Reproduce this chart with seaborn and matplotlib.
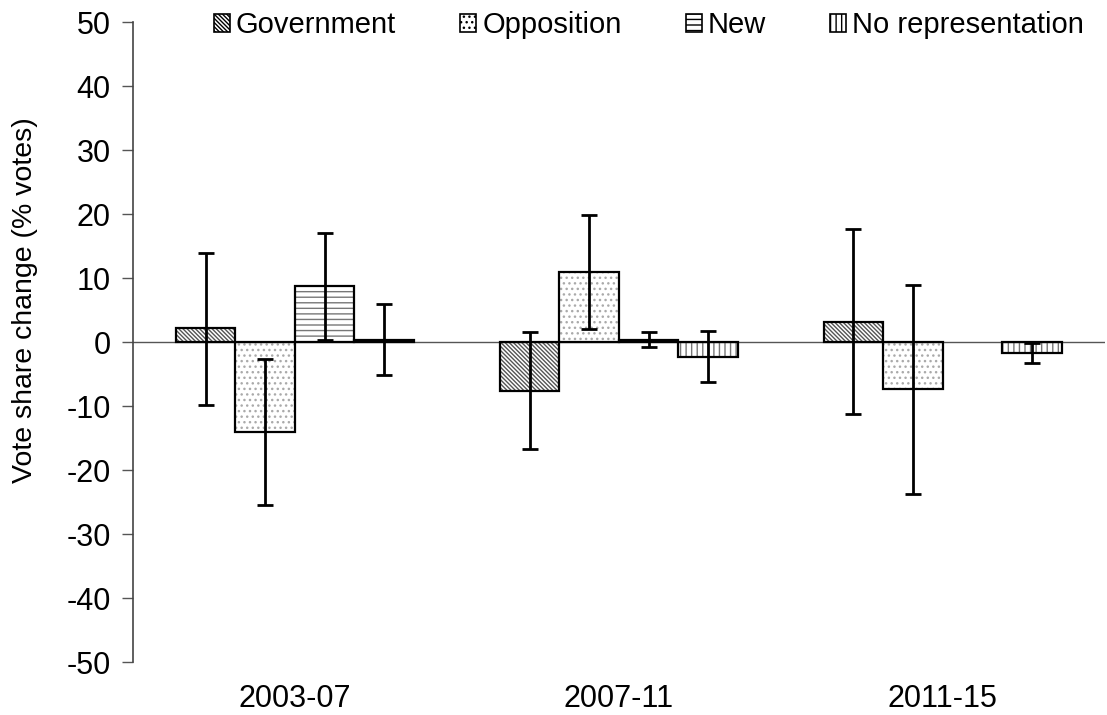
import numpy as np
import pandas as pd
import matplotlib
matplotlib.use('Agg')
import matplotlib.pyplot as plt
import seaborn as sns
from matplotlib.patches import Rectangle, Patch

# values
periods = ['2003-07', '2007-11', '2011-15']
groups = ['Government', 'Opposition', 'New', 'No representation']

gov_mean = [2.2, -7.6, 3.2]
gov_low = [-9.8, -16.7, -11.2]
gov_high = [13.9, 1.6, 17.7]

opp_mean = [-14.0, 11.0, -7.4]
opp_low = [-25.4, 2.0, -23.8]
opp_high = [-2.7, 19.9, 9.0]

new_mean = [8.7, 0.4, np.nan]
new_low = [0.3, -0.8, np.nan]
new_high = [17.0, 1.6, np.nan]

norep_mean = [0.4, -2.3, -1.7]
norep_low = [-5.2, -6.2, -3.3]
norep_high = [5.9, 1.8, -0.2]

means = {'Government': gov_mean, 'Opposition': opp_mean,
         'New': new_mean, 'No representation': norep_mean}
lows = {'Government': gov_low, 'Opposition': opp_low,
        'New': new_low, 'No representation': norep_low}
highs = {'Government': gov_high, 'Opposition': opp_high,
         'New': new_high, 'No representation': norep_high}

hatches = {'Government': '\\\\\\\\\\\\\\\\', 'Opposition': '...',
           'New': '---', 'No representation': '|||'}
hatch_cols = {'Government': '#555555', 'Opposition': '#aaaaaa',
              'New': '#777777', 'No representation': '#777777'}

rows = []
for g in groups:
    for i, p in enumerate(periods):
        rows.append({'period': p, 'group': g, 'value': means[g][i]})
df = pd.DataFrame(rows).dropna()

sns.set_style('white')
plt.rcParams['font.family'] = ['Liberation Sans', 'DejaVu Sans']
plt.rcParams['hatch.linewidth'] = 1.0
plt.rcParams['axes.unicode_minus'] = False
plt.rcParams['text.color'] = 'black'
plt.rcParams['axes.labelcolor'] = 'black'
plt.rcParams['xtick.color'] = 'black'
plt.rcParams['ytick.color'] = 'black'

fig = plt.figure(figsize=(11.07, 7.15), dpi=100)
ax = fig.add_axes([0.120, 0.074, 0.878, 0.895])

sns.barplot(data=df, x='period', y='value', hue='group', hue_order=groups,
            order=periods, width=0.735, errorbar=None, dodge=True,
            palette=['white'] * 4, legend=False, ax=ax)

for g, cont in zip(groups, ax.containers):
    for bar in cont:
        bar.set_hatch(hatches[g])
        bar.set_edgecolor(hatch_cols[g])
        bar.set_linewidth(0)
        bar.set_facecolor('white')
        ax.add_patch(Rectangle((bar.get_x(), bar.get_y()), bar.get_width(),
                               bar.get_height(), fill=False, edgecolor='black',
                               linewidth=1.6, zorder=3))
        xc = bar.get_x() + bar.get_width() / 2
        k = int(round(xc))
        m = means[g][k]
        ax.errorbar(xc, m, yerr=[[m - lows[g][k]], [highs[g][k] - m]],
                    fmt='none', ecolor='black', elinewidth=2, capsize=6,
                    capthick=2, zorder=4)

ax.axhline(0, color='#555555', lw=1, zorder=2)
ax.set_xlim(-0.5, 2.5)
ax.set_ylim(-50, 50)
ax.set_yticks(range(-50, 51, 10))
ax.set_xlabel('')
ax.set_ylabel('Vote share change (% votes)', fontsize=20.5)
ax.yaxis.set_label_coords(-0.098, 0.566)
ax.tick_params(axis='y', labelsize=22, length=8, width=1, color='#555555',
               labelcolor='black', direction='out', left=True, pad=8)
ax.tick_params(axis='x', labelsize=22, length=0, pad=16, labelcolor='black')

for s in ['top', 'right', 'bottom']:
    ax.spines[s].set_visible(False)
ax.spines['left'].set_color('#444444')
ax.spines['left'].set_linewidth(1.2)

handles = []
for g in groups:
    h = Patch(facecolor='white', edgecolor='black', hatch=hatches[g], linewidth=1.2)
    if hasattr(h, 'set_hatchcolor'):
        h.set_hatchcolor(hatch_cols[g])
    handles.append(h)
ax.legend(handles, groups, loc='center', bbox_to_anchor=(0.531, 0.995),
          ncol=4, frameon=False, fontsize=21, handlelength=0.55,
          handleheight=0.55, handletextpad=0.2, columnspacing=2.2)

fig.savefig('out.png', dpi=100)
